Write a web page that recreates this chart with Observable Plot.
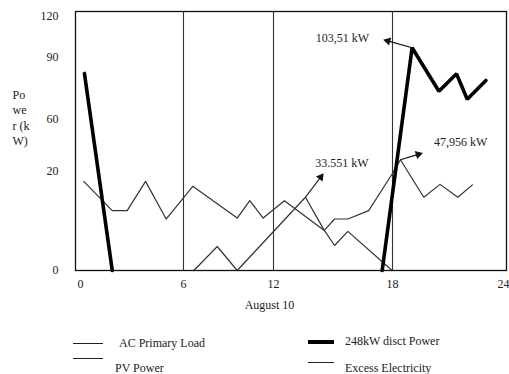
<!DOCTYPE html>
<html>
<head>
<meta charset="utf-8">
<script src="https://cdn.jsdelivr.net/npm/d3@7"></script>
<script src="https://cdn.jsdelivr.net/npm/@observablehq/plot@0.6"></script>
<style>
  html, body { margin: 0; padding: 0; background: #fff; }
  #wrap { position: relative; width: 509px; height: 374px; font-family: "Liberation Serif", "DejaVu Serif", serif; color: #222; }
  #chart svg { display: block; }
  #chart svg, #chart svg text { font-family: "Liberation Serif", "DejaVu Serif", serif !important; }
  .lg-line { position: absolute; height: 0; border-top: 1.4px solid #222; width: 30px; }
  .lg-text { position: absolute; font-size: 12px; line-height: 14px; white-space: nowrap; }
</style>
</head>
<body>
<div id="wrap">
  <div id="chart"></div>
</div>
<script>
// ---- data ----
const hoursLoad = [0.19, 1.85, 2.72, 3.79, 4.99, 6.62, 9.58, 10.42, 11.31, 12.55, 14.56, 15.08, 15.75, 16.80, 17.98, 18.43, 19.69, 20.57, 21.53, 22.32];
const acPrimaryLoad = [18.0, 12.1, 12.1, 18.0, 10.4, 17.0, 10.6, 14.1, 10.6, 14.1, 8.1, 10.4, 10.4, 12.1, 19.5, 29.0, 14.8, 17.4, 14.8, 17.3];

const hoursPV = [6.69, 8.25, 9.58, 13.61, 14.56, 15.08, 15.75, 17.98];
const pvPower = [0, 4.85, 0, 14.8, 8.1, 5.05, 7.9, 0];

const hoursGen = [0.23, 1.85, 10, 17.48, 19.06, 20.51, 21.46, 22.04, 23.05];
const genPower = [82.3, 0, null, 0, 97.1, 73.7, 82.1, 69.8, 78.9];

const xTicks = [0, 6, 12, 18, 24];
const yTicks = [0, 20, 60, 90, 120];
const gridHours = [6, 12, 18];

const annoLabels = ["103,51 kW", "33.551 kW", "47,956 kW"];
const annoX = [15.48, 15.45, 21.68];
const annoY = [104.4, 26.4, 42.5];
const arrowFromX = [19.06, 13.61, 18.43];
const arrowFromY = [97.1, 14.8, 29.0];
const arrowToX = [17.56, 14.51, 19.61];
const arrowToY = [102.95, 19.54, 34.08];

const seriesNames = ["AC Primary Load", "PV Power", "248kW disct Power", "Excess Electricity"];
const xLabel = "August 10";
const yLabel = "Po\nwe\nr (k\nW)";

// ---- scales (piecewise, as in the reference) ----
const xDomain = [0, 6, 12, 18, 24], xRange = [80, 183, 273, 392, 503];
const yDomain = [0, 20, 60, 90, 120], yRange = [270, 171, 119, 57, 16];
const xs = d3.scaleLinear(xDomain, xRange);
const ys = d3.scaleLinear(yDomain, yRange);

// ---- tables ----
const loadData = hoursLoad.map((h, i) => ({h, v: acPrimaryLoad[i]}));
const pvData = hoursPV.map((h, i) => ({h, v: pvPower[i]}));
const genData = hoursGen.map((h, i) => ({h, v: genPower[i]}));
const annos = annoLabels.map((t, i) => ({t, x: annoX[i], y: annoY[i]}));
const arrows = arrowFromX.map((x1, i) => {
  const x2 = arrowToX[i], y1 = arrowFromY[i], y2 = arrowToY[i];
  const px1 = xs(x1), py1 = ys(y1), px2 = xs(x2), py2 = ys(y2);
  const L = Math.hypot(px2 - px1, py2 - py1), ux = (px2 - px1) / L, uy = (py2 - py1) / L;
  const back = 4.2;
  return {
    x1, y1, x2, y2,
    lx2: xs.invert(px2 - ux * 5), ly2: ys.invert(py2 - uy * 5),
    hx: xs.invert(px2 - ux * back), hy: ys.invert(py2 - uy * back),
    rot: Math.atan2(ux, -uy) * 180 / Math.PI
  };
});

const ink = "#222";
const plot = Plot.plot({
  width: 509,
  height: 322,
  marginLeft: 75,
  marginRight: 3,
  marginTop: 11,
  marginBottom: 52,
  style: {fontSize: "12px", color: ink, background: "white"},
  x: {type: "linear", domain: xDomain, range: xRange},
  y: {type: "linear", domain: yDomain, range: yRange},
  marks: [
    Plot.ruleX(gridHours, {stroke: "#333", strokeWidth: 1.1}),
    Plot.line(loadData, {x: "h", y: "v", stroke: "#333", strokeWidth: 1.2}),
    Plot.line(pvData, {x: "h", y: "v", stroke: "#333", strokeWidth: 1.2}),
    Plot.line(genData, {x: "h", y: "v", stroke: "#000", strokeWidth: 3.6, strokeLinejoin: "miter"}),
    Plot.link(arrows, {x1: "x1", y1: "y1", x2: "lx2", y2: "ly2", stroke: "#111", strokeWidth: 1.2}),
    Plot.dot(arrows, {x: "hx", y: "hy", symbol: "triangle", rotate: "rot", r: 3.1, fill: "#111", stroke: null}),
    Plot.text(annos, {x: "x", y: "y", text: "t", fontSize: 12, fill: ink}),
    Plot.frame({stroke: "#111", strokeWidth: 1.3}),
    Plot.axisX({ticks: xTicks, tickSize: 0, tickPadding: 9, tickFormat: d => String(d), label: null, fontSize: 12}),
    Plot.axisY({ticks: yTicks, tickSize: 0, tickPadding: 17, tickFormat: d => String(d), label: null, fontSize: 12}),
    Plot.text([yLabel], {frameAnchor: "left", dx: -63, dy: -24, textAnchor: "start", lineHeight: 1.29, fontSize: 12, fill: ink}),
    Plot.text([xLabel], {frameAnchor: "bottom", dx: -21.5, dy: 38, fontSize: 12, fill: ink})
  ]
});
document.getElementById("chart").appendChild(plot);

// ---- legend below the chart ----
const wrap = document.getElementById("wrap");
const legendItems = [
  {name: seriesNames[0], lx: 73, ly: 343, tx: 119, ty: 336, w: 1.4},
  {name: seriesNames[1], lx: 73, ly: 358, tx: 115, ty: 361, w: 1.4},
  {name: seriesNames[2], lx: 308, ly: 340, tx: 345, ty: 334, w: 4},
  {name: seriesNames[3], lx: 308, ly: 362, tx: 345, ty: 361, w: 1.4}
];
for (const it of legendItems) {
  const l = document.createElement("div");
  l.className = "lg-line";
  l.style.left = it.lx + "px";
  l.style.top = it.ly + "px";
  l.style.width = (it.lx === 73 ? 30 : 26) + "px";
  l.style.borderTopWidth = it.w + "px";
  l.style.borderTopColor = it.w > 2 ? "#000" : "#222";
  wrap.appendChild(l);
  const t = document.createElement("div");
  t.className = "lg-text";
  t.style.left = it.tx + "px";
  t.style.top = it.ty + "px";
  t.textContent = it.name;
  wrap.appendChild(t);
}
</script>
</body>
</html>
